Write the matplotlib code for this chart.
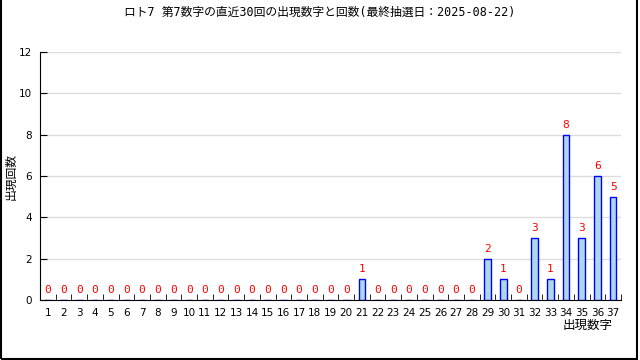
import numpy as np
import matplotlib.pyplot as plt
from matplotlib.patches import Rectangle

#Data
numbers = list(range(1, 38))
counts = [0]*20 + [1] + [0]*7 + [2, 1, 0, 3, 1, 8, 3, 6, 5]
title = "ロト7 第7数字の直近30回の出現数字と回数(最終抽選日：2025-08-22)"

plt.rcParams['font.family'] = ['DejaVu Sans', 'Noto Sans CJK JP']

fig = plt.figure(figsize=(6.4, 3.6), dpi=100)
ax = fig.add_axes([40/640, 1-300/360, 581/640, 248/360])

ax.bar(numbers, counts, width=0.42, color="lightblue", edgecolor="blue", linewidth=1, zorder=3)
for n, c in zip(numbers, counts):
    ax.text(n, c + 0.25, str(c), color="red", ha="center", va="bottom",
            fontsize=8, family=['DejaVu Sans Mono'])

ax.set_xlim(0.5, 37.5)
ax.set_ylim(0, 12)
ax.set_yticks(np.arange(0, 13, 2))
ax.set_xticks(numbers)
ax.set_xticks(np.arange(1.5, 38, 1), minor=True)
ax.tick_params(axis="x", which="major", length=0, labelsize=7.5, pad=6)
ax.tick_params(axis="x", which="minor", length=4, direction="in")
ax.tick_params(axis="y", length=5, direction="in", labelsize=7.5, pad=6)
ax.yaxis.grid(True, color="#dddddd", linewidth=1, zorder=0)
ax.spines["top"].set_visible(False)
ax.spines["right"].set_visible(False)

fig.text(0.5, 1-12/360, title, ha="center", va="center", fontsize=8.5,
         family=['DejaVu Sans Mono', 'Noto Sans CJK JP'])
fig.text(11/640, 1-176/360, "出現回数", rotation=90, ha="center", va="center",
         fontsize=8.5, family=['Noto Sans CJK JP'])
fig.text(613/640, 1-325/360, "出現数字", ha="right", va="center",
         fontsize=9, family=['Noto Sans CJK JP'])

#frame round the picture
fig.patches.append(Rectangle((0.002, 0.004), 0.994, 1.2, transform=fig.transFigure,
                             fill=False, edgecolor="black", linewidth=1.5))

fig.savefig("out.png", dpi=100)
